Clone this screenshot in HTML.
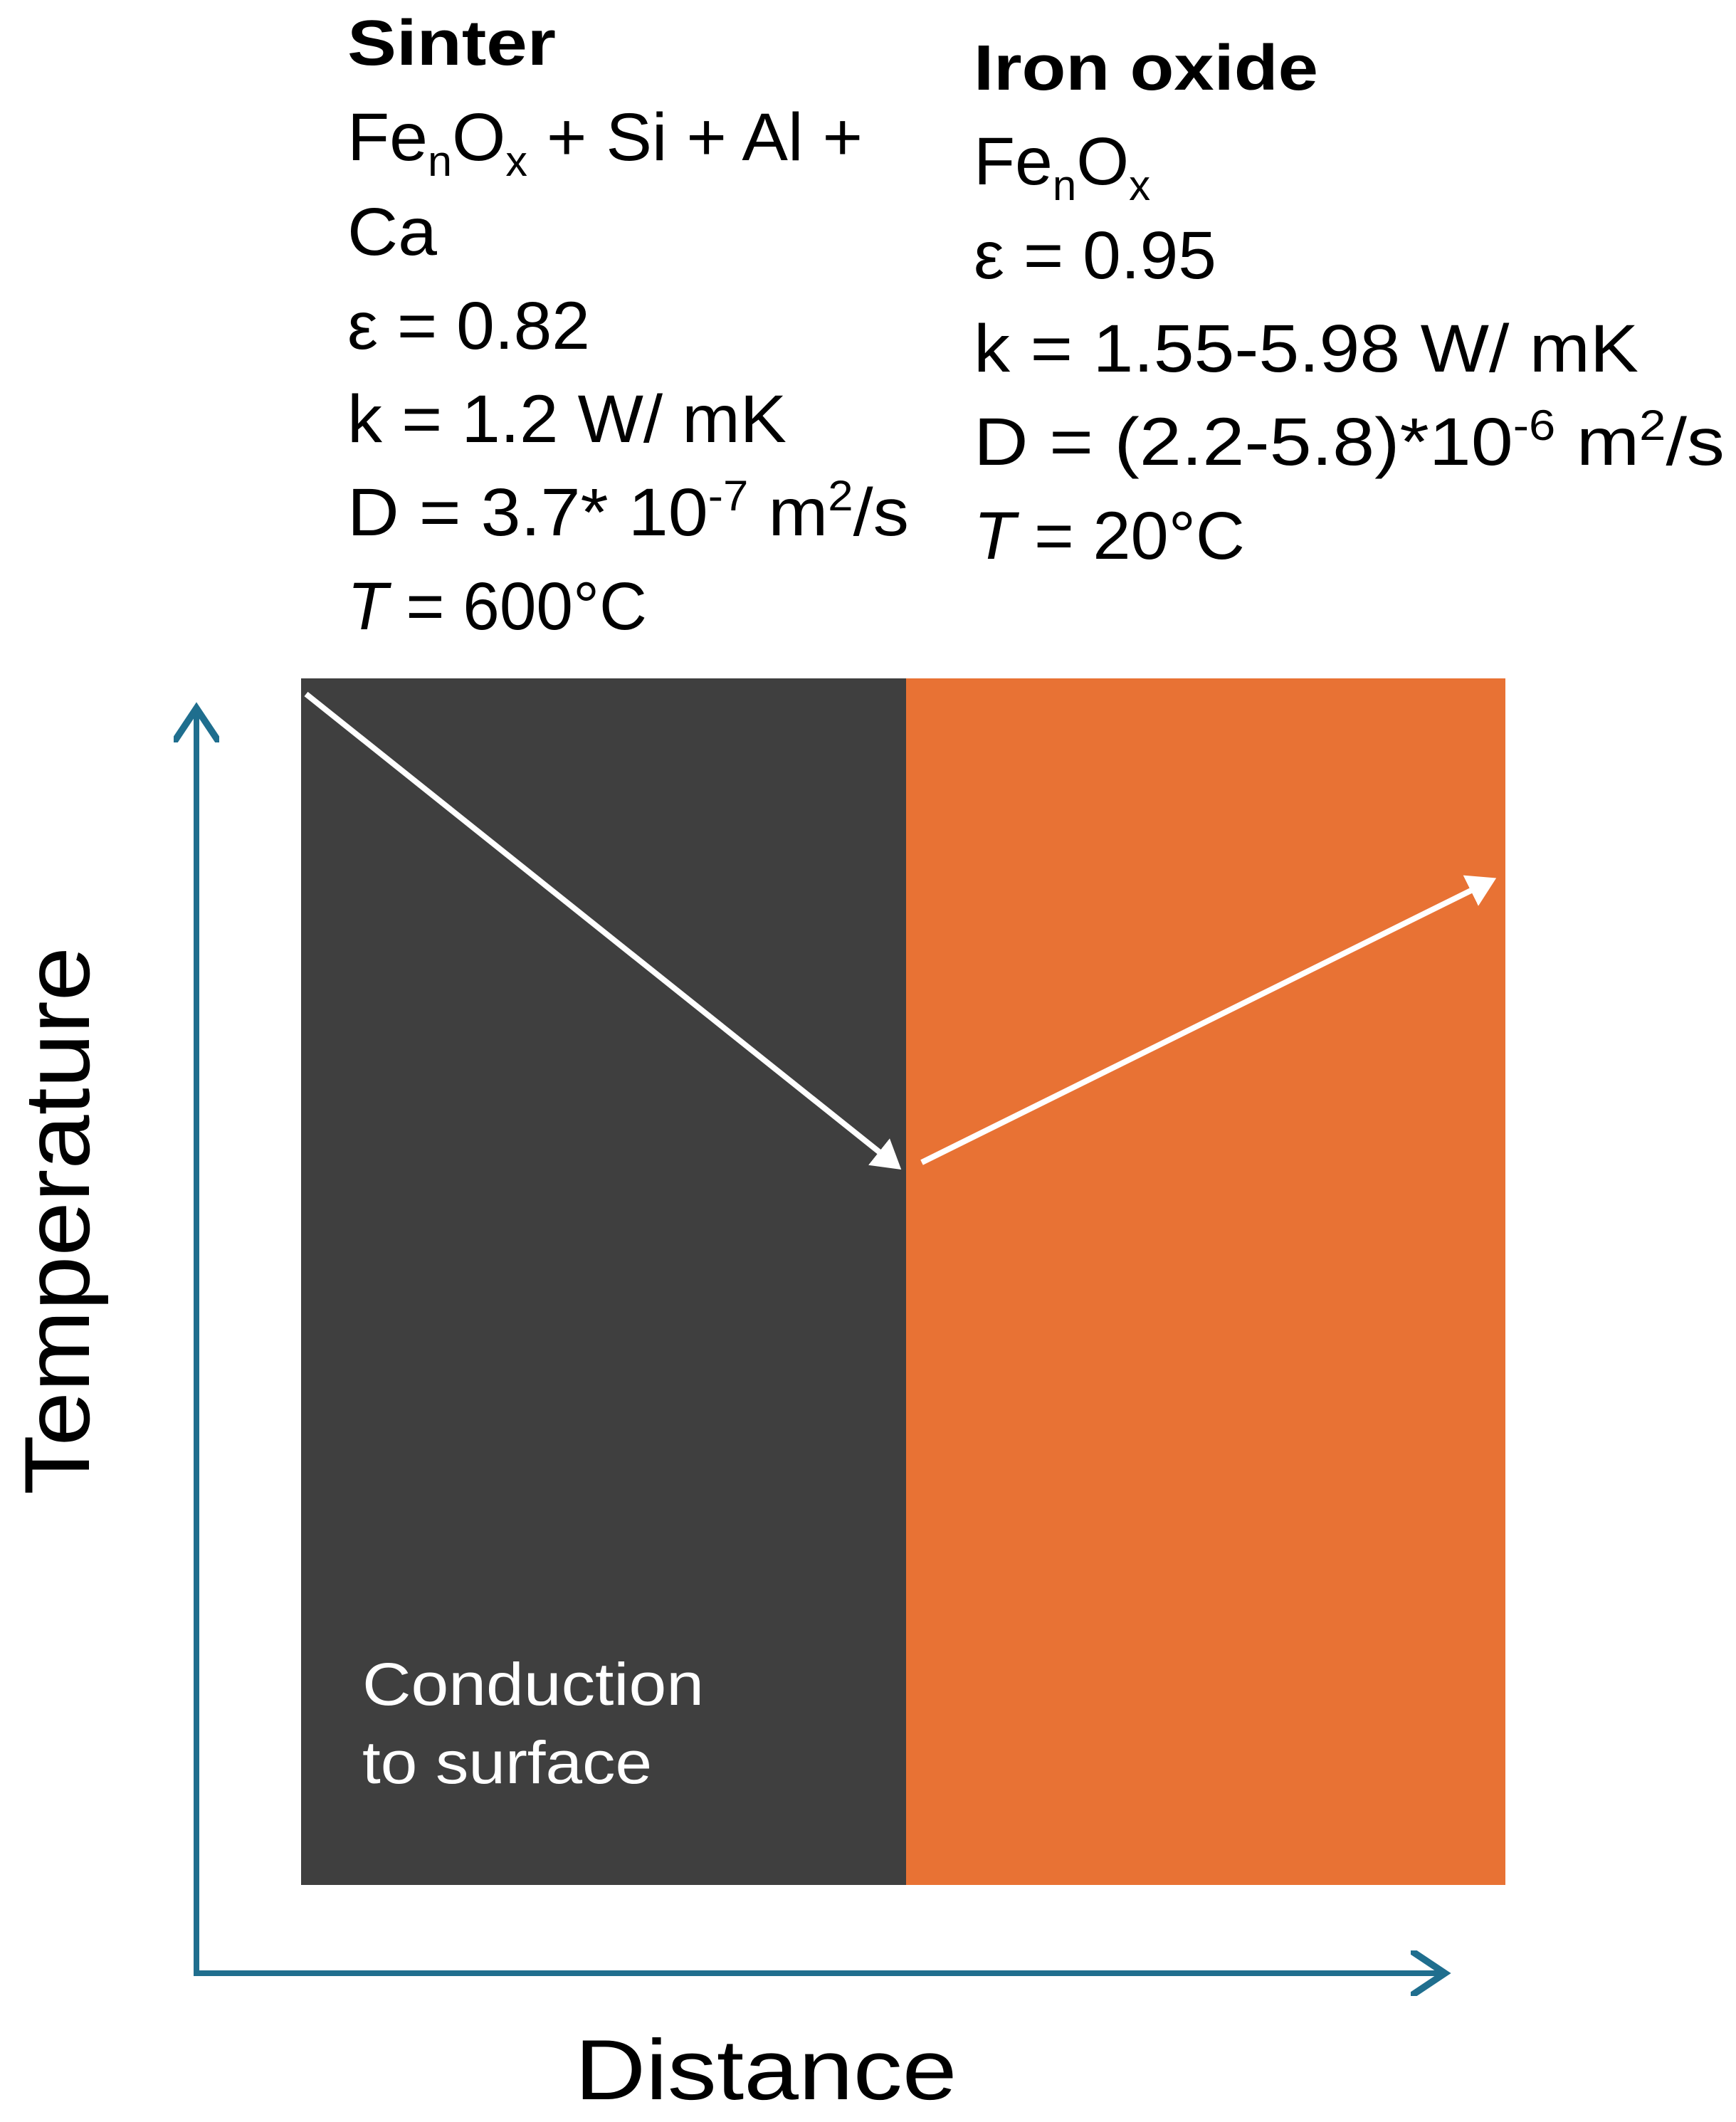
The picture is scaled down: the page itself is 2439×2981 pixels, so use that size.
<!DOCTYPE html>
<html><head><meta charset="utf-8"><style>html,body{margin:0;padding:0;background:#fff}svg{display:block}text{font-family:"Liberation Sans",sans-serif}</style></head>
<body>
<svg width="2439" height="2981" viewBox="0 0 2439 2981" xmlns="http://www.w3.org/2000/svg">
<defs>
<marker id="wh" markerWidth="6" markerHeight="6" refX="4" refY="3" orient="auto" markerUnits="strokeWidth"><path d="M0,0 L5,3 L0,6 Z" fill="#fff"/></marker>
<marker id="bl" markerWidth="8" markerHeight="8" refX="6" refY="4" orient="auto" markerUnits="strokeWidth"><path d="M0,0 L6,4 L0,8" fill="none" stroke="#1f6e8e" stroke-width="1.2"/></marker>
</defs>
<g font-size="95" fill="#000">
<text x="488" y="91" font-weight="bold" font-size="90" textLength="293" lengthAdjust="spacingAndGlyphs">Sinter</text>
<text x="488" y="225" textLength="724" lengthAdjust="spacingAndGlyphs">Fe<tspan font-size="60" dy="22">n</tspan><tspan dy="-22">O</tspan><tspan font-size="60" dy="22">x</tspan><tspan dy="-22"> + Si + Al +</tspan></text>
<text x="488" y="358" textLength="126" lengthAdjust="spacingAndGlyphs">Ca</text>
<text x="488" y="490" textLength="341" lengthAdjust="spacingAndGlyphs">ε = 0.82</text>
<text x="488" y="621" textLength="617" lengthAdjust="spacingAndGlyphs">k = 1.2 W/ mK</text>
<text x="488" y="752" textLength="789" lengthAdjust="spacingAndGlyphs">D = 3.7* 10<tspan font-size="60" dy="-35">-7</tspan><tspan dy="35"> m</tspan><tspan font-size="60" dy="-35">2</tspan><tspan dy="35">/s</tspan></text>
<text x="488" y="884" textLength="421" lengthAdjust="spacingAndGlyphs"><tspan font-style="italic">T</tspan> = 600°C</text>
</g>
<g font-size="95" fill="#000">
<text x="1368" y="126" font-weight="bold" font-size="90" textLength="484" lengthAdjust="spacingAndGlyphs">Iron oxide</text>
<text x="1368" y="259">Fe<tspan font-size="60" dy="22">n</tspan><tspan dy="-22">O</tspan><tspan font-size="60" dy="22">x</tspan></text>
<text x="1368" y="391" textLength="341" lengthAdjust="spacingAndGlyphs">ε = 0.95</text>
<text x="1368" y="522" textLength="934" lengthAdjust="spacingAndGlyphs">k = 1.55-5.98  W/ mK</text>
<text x="1368" y="653" textLength="1055" lengthAdjust="spacingAndGlyphs">D =  (2.2-5.8)*10<tspan font-size="60" dy="-35">-6</tspan><tspan dy="35">  m</tspan><tspan font-size="60" dy="-35">2</tspan><tspan dy="35">/s</tspan></text>
<text x="1368" y="785" textLength="381" lengthAdjust="spacingAndGlyphs"><tspan font-style="italic">T</tspan> = 20°C</text>
</g>
<rect x="423" y="953" width="851" height="1695" fill="#3f3f3f"/>
<rect x="1273" y="953" width="842" height="1695" fill="#e87234"/>
<text x="509" y="2395" font-size="84" fill="#fff" textLength="480" lengthAdjust="spacingAndGlyphs">Conduction</text>
<text x="509" y="2505" font-size="84" fill="#fff" textLength="407" lengthAdjust="spacingAndGlyphs">to surface</text>
<line x1="430" y1="975" x2="1260" y2="1638" stroke="#fff" stroke-width="8" marker-end="url(#wh)"/>
<line x1="1295" y1="1633" x2="2095" y2="1237" stroke="#fff" stroke-width="8" marker-end="url(#wh)"/>
<line x1="276" y1="2772" x2="276" y2="995" stroke="#1f6e8e" stroke-width="8" marker-end="url(#bl)"/>
<line x1="272" y1="2772" x2="2030" y2="2772" stroke="#1f6e8e" stroke-width="8" marker-end="url(#bl)"/>
<text transform="translate(125,1715) rotate(-90)" text-anchor="middle" font-size="130" textLength="770" lengthAdjust="spacingAndGlyphs">Temperature</text>
<text x="1076" y="2949" text-anchor="middle" font-size="120" textLength="537" lengthAdjust="spacingAndGlyphs">Distance</text>
</svg>
</body></html>
